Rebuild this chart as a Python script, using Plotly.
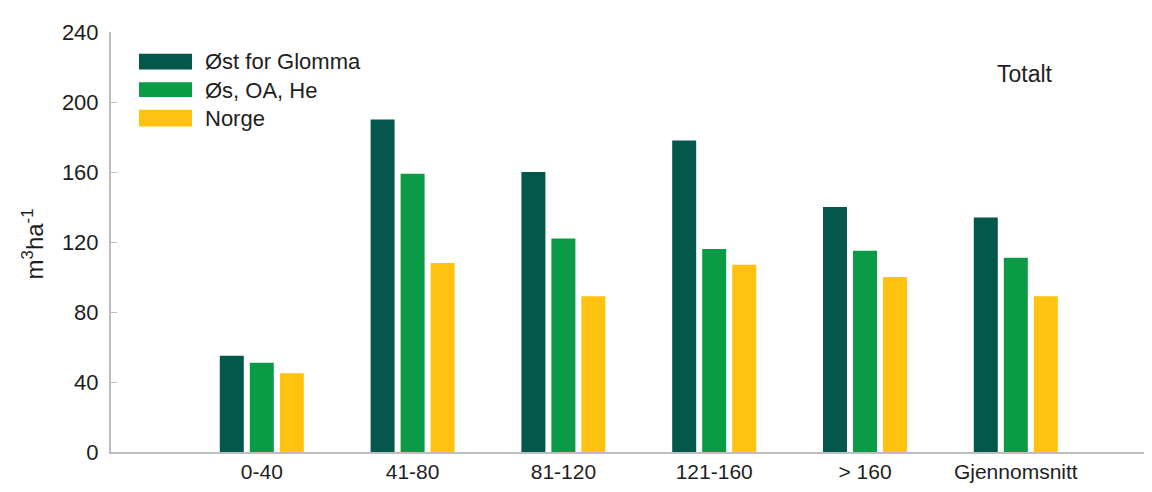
import plotly.graph_objects as go

categories = ["0-40", "41-80", "81-120", "121-160", "> 160", "Gjennomsnitt"]
ost_for_glomma = [55, 190, 160, 178, 140, 134]
os_oa_he = [51, 159, 122, 116, 115, 111]
norge = [45, 108, 89, 107, 100, 89]
y_ticks = [0, 40, 80, 120, 160, 200, 240]

series = [
    ("Øst for Glomma", ost_for_glomma, "#04574B"),
    ("Øs, OA, He", os_oa_he, "#0B9A45"),
    ("Norge", norge, "#FFC20E"),
]

FONT = "Liberation Sans, Arial, sans-serif"
TXT = "#1e1e1e"
x_pos = list(range(1, len(categories) + 1))

fig = go.Figure()
for name, vals, color in series:
    fig.add_trace(go.Bar(x=x_pos, y=vals, name=name, marker_color=color,
                         marker_line_width=0, showlegend=False))

# plot area in page pixels (page has an 8px body offset)
OFF = 8
L, R, T, B = 111, 1145, 25, 452
W, H = R - L, B - T

def px(x):
    return (x - L) / W

def py(y):
    return (B - y) / H

shapes = []
annotations = []
legend_rows = [(47, 63, 55), (76, 91, 84), (104, 121, 113)]
for (name, vals, color), (y0, y1, yc) in zip(series, legend_rows):
    shapes.append(dict(type="rect", xref="paper", yref="paper",
                       x0=px(139), x1=px(192), y0=py(y1), y1=py(y0),
                       fillcolor=color, line_width=0))
    annotations.append(dict(xref="paper", yref="paper", x=px(203), y=py(yc),
                            text=name, showarrow=False, xanchor="left",
                            yanchor="middle", font=dict(size=22, color=TXT, family=FONT)))

annotations.append(dict(xref="paper", yref="paper", x=px(1025), y=py(68),
                        text="Totalt", showarrow=False, xanchor="center", yanchor="middle",
                        font=dict(size=23, color=TXT, family=FONT)))
annotations.append(dict(xref="paper", yref="paper", x=px(33), y=py(241),
                        text="m<sup>3</sup>ha<sup>-1</sup>", showarrow=False, textangle=-90,
                        xanchor="center", yanchor="middle",
                        font=dict(size=24, color=TXT, family=FONT)))

fig.update_layout(
    width=1152, height=492,
    margin=dict(l=L - OFF, r=1152 - (R - OFF), t=T - OFF, b=492 - (B - OFF)),
    paper_bgcolor="white", plot_bgcolor="white",
    barmode="group", bargap=0.403, bargroupgap=0.2,
    font=dict(family=FONT, size=21, color=TXT),
    shapes=shapes, annotations=annotations,
    xaxis=dict(range=[0, (R - L) / 150.8], tickvals=x_pos, ticktext=categories,
               showgrid=False, zeroline=False, showline=True, linecolor="#BDBDBD",
               linewidth=2, ticks="", tickfont=dict(size=21, color=TXT)),
    yaxis=dict(range=[0, 240], tickvals=y_ticks, showgrid=False, zeroline=False,
               showline=True, linecolor="#BDBDBD", linewidth=2, ticks="inside",
               ticklen=6, tickcolor="#BDBDBD", tickwidth=1, ticklabelstandoff=6,
               tickfont=dict(size=22, color=TXT)),
)

fig.write_html("out.html")
